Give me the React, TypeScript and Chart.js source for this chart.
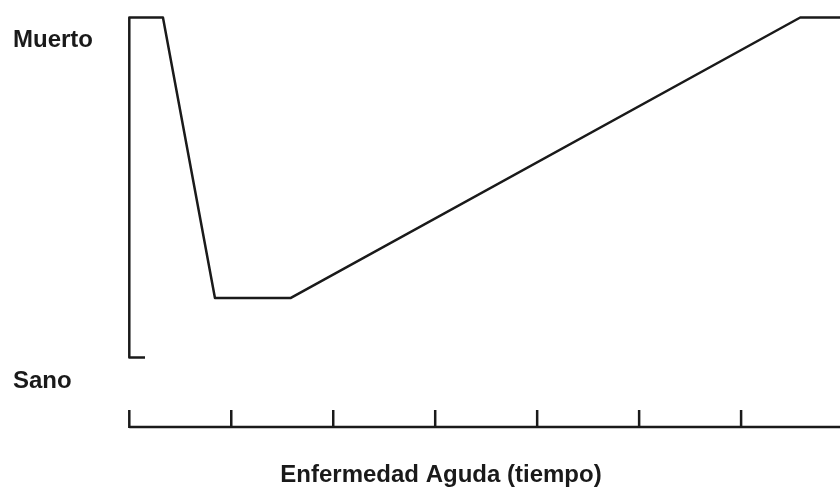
import React, { useEffect, useRef } from "react";
import { Chart, registerables } from "chart.js";

Chart.register(...registerables);

// Path of the health state over time (x in time units, y: 0 = Sano, 1 = Muerto)
const timeValues = [0.154, 0, 0, 0.33, 0.84, 1.58, 6.58, 7.1];
const stateValues = [0, 0, 1, 1, 0.175, 0.175, 1, 1];
const axisTicks = [0, 1, 2, 3, 4, 5, 6];
const stateLabels = ["Muerto", "Sano"];
const axisTitle = "Enfermedad Aguda (tiempo)";

const X_MIN = 0;
const X_MAX = 6.97;
const Y_MIN = -0.204;
const Y_MAX = 1;

const FONT = "bold 24px 'Liberation Sans', Arial, sans-serif";

const decorPlugin = {
  id: "decor",
  afterDatasetsDraw(chart: any) {
    const { ctx, scales } = chart;
    const xs = scales.x;
    const ys = scales.y;
    ctx.save();
    ctx.strokeStyle = "#1a1a1a";
    ctx.lineWidth = 2.5;
    ctx.lineCap = "butt";
    const yAxis = ys.getPixelForValue(Y_MIN);
    // baseline
    ctx.beginPath();
    ctx.moveTo(xs.getPixelForValue(axisTicks[0]), yAxis);
    ctx.lineTo(xs.getPixelForValue(X_MAX) + 2, yAxis);
    ctx.stroke();
    // upward ticks
    axisTicks.forEach((t) => {
      const px = xs.getPixelForValue(t);
      ctx.beginPath();
      ctx.moveTo(px, yAxis + 1);
      ctx.lineTo(px, yAxis - 17);
      ctx.stroke();
    });
    // labels
    ctx.fillStyle = "#1a1a1a";
    ctx.font = FONT;
    ctx.textAlign = "left";
    ctx.textBaseline = "alphabetic";
    ctx.fillText(stateLabels[0], 13, 47);
    ctx.fillText(stateLabels[1], 13, 388);
    ctx.textAlign = "center";
    ctx.fillText(axisTitle, 441, 482);
    ctx.restore();
  },
};

export default function App() {
  const ref = useRef<HTMLCanvasElement | null>(null);
  useEffect(() => {
    if (!ref.current) return;
    const data = timeValues.map((x, i) => ({ x, y: stateValues[i] }));
    const chart = new Chart(ref.current, {
      type: "scatter",
      data: {
        datasets: [
          {
            data,
            showLine: true,
            borderColor: "#1a1a1a",
            borderWidth: 2.5,
            borderJoinStyle: "round",
            pointRadius: 0,
            pointHoverRadius: 0,
            tension: 0,
            clip: { left: 5, top: 5, right: 0, bottom: 5 },
          } as any,
        ],
      },
      options: {
        animation: false,
        responsive: false,
        devicePixelRatio: 1,
        events: [],
        layout: { padding: { left: 129.3, right: 0, top: 17.5, bottom: 60 } },
        plugins: { legend: { display: false }, tooltip: { enabled: false } },
        scales: {
          x: { type: "linear", display: false, min: X_MIN, max: X_MAX },
          y: { type: "linear", display: false, min: Y_MIN, max: Y_MAX },
        },
      },
      plugins: [decorPlugin],
    });
    return () => chart.destroy();
  }, []);
  return (
    <div style={{ position: "fixed", left: 0, top: 0, width: 840, height: 487, background: "#fff" }}>
      <canvas ref={ref} width={840} height={487} style={{ display: "block" }} />
    </div>
  );
}
